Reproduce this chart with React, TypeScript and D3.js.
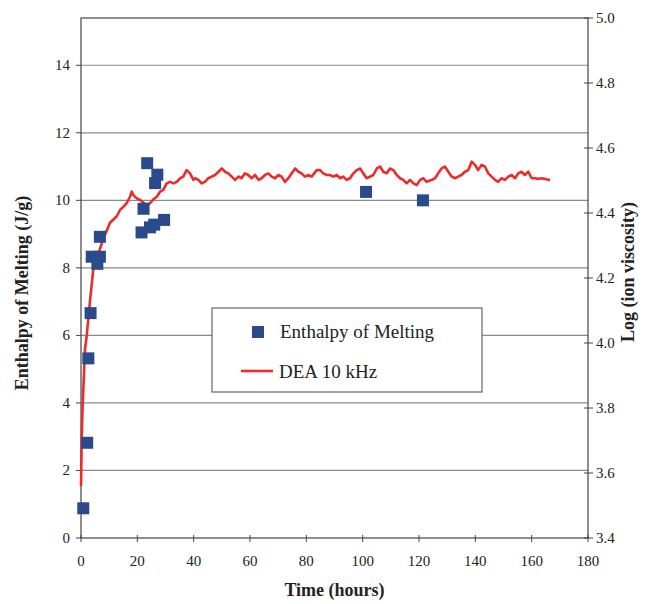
import * as d3 from 'd3';

const W = 649;
const H = 604;
const M = { top: 18, right: 61, bottom: 66, left: 81 };

// enthalpy of melting samples (hours, J/g)
const meltHours = [0.8, 2.2, 2.6, 3.4, 3.8, 5.8, 6.7, 6.7, 21.5, 22.2, 23.5, 24.5, 26.0, 26.3, 27.1, 29.5, 101.2, 121.4];
const meltEnthalpy = [0.88, 2.82, 5.32, 6.66, 8.33, 8.12, 8.33, 8.92, 9.05, 9.75, 11.1, 9.2, 9.28, 10.51, 10.76, 9.42, 10.25, 10.0];

// DEA 10 kHz trace (hours, log ion viscosity)
const deaHours = [
	0.0, 0.25, 0.6, 1.4, 2.0, 3.2, 4.4, 5.6, 7.9, 10.3, 12.7, 13.9, 15.0, 16.2, 17.4, 18.0, 18.6, 19.8,
	21.0, 22.1, 23.3, 24.5, 25.7, 26.9, 28.1, 29.2, 30.4, 31.6, 32.8, 34.0, 35.2, 36.3, 37.5, 38.7, 39.9,
	40.5, 41.7, 42.8, 44.0, 45.2, 46.4, 47.6, 48.8, 50.0, 51.1, 52.3, 53.5, 54.7, 55.9, 57.0, 58.2, 59.4,
	60.6, 61.8, 63.0, 64.1, 65.3, 66.5, 67.7, 68.9, 70.1, 71.2, 72.4, 73.6, 74.8, 76.0, 77.2, 78.3, 79.5,
	80.7, 81.9, 83.7, 84.9, 86.0, 87.2, 88.4, 89.6, 90.8, 92.0, 93.1, 94.3, 95.5, 96.7, 97.9, 99.1, 100.2,
	101.4, 102.6, 103.8, 105.0, 106.2, 107.3, 108.5, 109.7, 110.9, 112.1, 113.3, 114.4, 115.6, 116.8, 118.0,
	119.2, 120.4, 121.5, 122.7, 124.5, 125.7, 126.8, 128.0, 129.2, 130.4, 131.6, 132.8, 133.9, 135.1, 136.3,
	137.5, 138.7, 139.9, 141.0, 142.2, 143.4, 144.6, 145.8, 147.0, 148.1, 149.3, 150.5, 151.7, 152.9, 154.1,
	155.2, 156.4, 157.6, 158.8, 160.0, 161.2, 162.3, 163.5, 164.7, 165.9, 166.5,
];
const deaLogVisc = [
	3.56, 3.71, 3.81, 3.98, 4.02, 4.13, 4.23, 4.26, 4.32, 4.37, 4.39, 4.41, 4.419, 4.43, 4.45, 4.466, 4.455, 4.445,
	4.44, 4.432, 4.425, 4.43, 4.442, 4.45, 4.466, 4.471, 4.491, 4.496, 4.491, 4.496, 4.507, 4.512, 4.532, 4.522, 4.502,
	4.507, 4.502, 4.491, 4.496, 4.507, 4.512, 4.517, 4.527, 4.537, 4.527, 4.522, 4.512, 4.502, 4.512, 4.507, 4.522, 4.517,
	4.507, 4.517, 4.502, 4.507, 4.517, 4.522, 4.512, 4.507, 4.517, 4.512, 4.496, 4.507, 4.522, 4.537, 4.527, 4.522, 4.512,
	4.517, 4.512, 4.532, 4.532, 4.522, 4.517, 4.517, 4.512, 4.517, 4.507, 4.512, 4.502, 4.507, 4.522, 4.532, 4.537, 4.522,
	4.507, 4.512, 4.517, 4.537, 4.543, 4.527, 4.522, 4.537, 4.532, 4.517, 4.507, 4.502, 4.491, 4.502, 4.491,
	4.486, 4.502, 4.507, 4.496, 4.502, 4.507, 4.522, 4.537, 4.543, 4.527, 4.512, 4.507, 4.512, 4.517, 4.527,
	4.532, 4.558, 4.548, 4.532, 4.548, 4.543, 4.522, 4.512, 4.502, 4.496, 4.507, 4.502, 4.512, 4.517, 4.507,
	4.522, 4.527, 4.517, 4.527, 4.507, 4.507, 4.505, 4.507, 4.505, 4.502, 4.502,
];

const xTicks = [0, 20, 40, 60, 80, 100, 120, 140, 160, 180];
const leftTicks = [0, 2, 4, 6, 8, 10, 12, 14];
const rightTicks = [3.4, 3.6, 3.8, 4.0, 4.2, 4.4, 4.6, 4.8, 5.0];

const FONT = "'Liberation Serif', 'DejaVu Serif', serif";
const RED = '#ee2a2a';
const BLUE = '#2b4a8b';

export default function App() {
	const x = d3.scaleLinear().domain([0, 180]).range([M.left, W - M.right]);
	const yL = d3.scaleLinear().domain([0, 15.4]).range([H - M.bottom, M.top]);
	const yR = d3.scaleLinear().domain([3.4, 5.0]).range([H - M.bottom, M.top]);

	const deaPts: [number, number][] = deaHours.map((h, i) => [x(h), yR(deaLogVisc[i])]);
	const linePath = d3.line()(deaPts) || '';

	const x0 = M.left;
	const x1 = W - M.right;
	const y0 = H - M.bottom;
	const y1 = M.top;
	const sq = 12;
	const txt = { fontFamily: FONT, fill: '#222' };

	return (
		<svg width={W} height={H} style={{ position: 'absolute', left: 0, top: 0, background: '#fff' }}>
			{/* gridlines */}
			{leftTicks.filter(t => t > 0).map(t => (
				<line key={'g' + t} x1={x0} x2={x1} y1={yL(t)} y2={yL(t)} stroke="#8a8a8a" strokeWidth={1.2} />
			))}
			{/* frame */}
			<rect x={x0} y={y1} width={x1 - x0} height={y0 - y1} fill="none" stroke="#444" strokeWidth={1.2} />

			{/* x axis */}
			{xTicks.map(t => (
				<g key={'x' + t}>
					<line x1={x(t)} x2={x(t)} y1={y0 - 3} y2={y0 + 4} stroke="#444" />
					<text x={x(t)} y={y0 + 28} textAnchor="middle" fontSize={15} style={txt}>{t}</text>
				</g>
			))}
			{/* left axis */}
			{leftTicks.map(t => (
				<g key={'l' + t}>
					<line x1={x0 - 5} x2={x0} y1={yL(t)} y2={yL(t)} stroke="#444" />
					<text x={x0 - 11} y={yL(t) + 5} textAnchor="end" fontSize={15} style={txt}>{t}</text>
				</g>
			))}
			{/* right axis */}
			{rightTicks.map(t => (
				<g key={'r' + t}>
					<line x1={x1 - 4} x2={x1 + 5} y1={yR(t)} y2={yR(t)} stroke="#444" />
					<text x={x1 + 8} y={yR(t) + 5} fontSize={15} style={txt}>{t.toFixed(1)}</text>
				</g>
			))}

			{/* DEA line */}
			<path d={linePath} fill="none" stroke={RED} strokeWidth={2.6} strokeLinejoin="round" />

			{/* enthalpy squares */}
			{meltHours.map((h, i) => (
				<rect key={'m' + i} x={x(h) - sq / 2} y={yL(meltEnthalpy[i]) - sq / 2} width={sq} height={sq} fill={BLUE} />
			))}

			{/* titles */}
			<text x={(x0 + x1) / 2} y={H - 8} textAnchor="middle" fontSize={18} fontWeight="bold" style={txt}>Time (hours)</text>
			<text transform={`translate(28, ${(y0 + y1) / 2 + 15}) rotate(-90)`} textAnchor="middle" fontSize={18}
				fontWeight="bold" style={txt}>Enthalpy of Melting (J/g)</text>
			<text transform={`translate(634, ${(y0 + y1) / 2 - 6}) rotate(-90)`} textAnchor="middle" fontSize={18}
				fontWeight="bold" style={txt}>Log (ion viscosity)</text>

			{/* legend */}
			<g>
				<rect x={212} y={308} width={270} height={84} fill="#fff" stroke="#666" strokeWidth={1.2} />
				<rect x={252} y={326} width={12} height={12} fill={BLUE} />
				<text x={280} y={338} fontSize={19} style={txt}>Enthalpy of Melting</text>
				<line x1={241} x2={273} y1={371} y2={371} stroke={RED} strokeWidth={2.6} />
				<text x={279} y={378} fontSize={19} style={txt}>DEA 10 kHz</text>
			</g>
		</svg>
	);
}
